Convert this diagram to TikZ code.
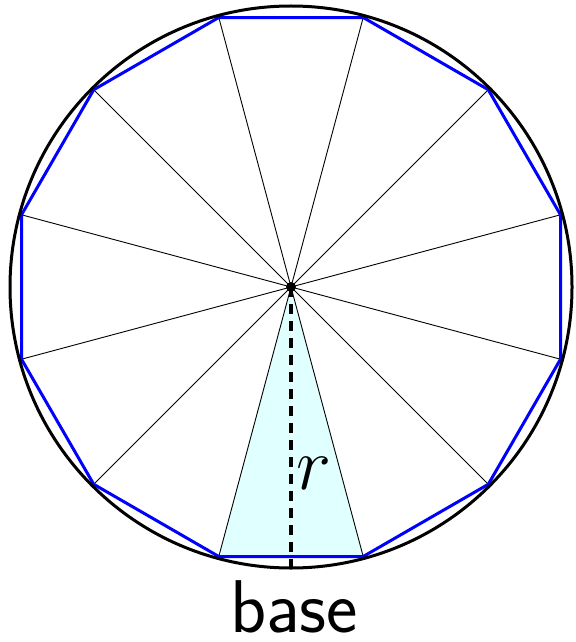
\RequirePackage{fix-cm}
\documentclass[tikz,border=0pt]{standalone}
\usepackage{fontspec}
\usetikzlibrary{calc}
\definecolor{lightcyan}{RGB}{224,255,255}
\begin{document}
\begin{tikzpicture}[x=1bp,y=-1bp,
  spoke/.style={line width=0.9bp,black},
  poly/.style={line width=3bp,blue,line join=round},
  circ/.style={line width=3bp,black},
  midline/.style={line width=3.2bp,dash pattern=on 10bp off 7bp},
  lbl/.style={font=\fontsize{75}{80}\selectfont, inner sep=0pt}]
\useasboundingbox (0,0) rectangle (576,642);
\coordinate (O) at (291,287);
\foreach \i in {0,...,11} {
  \coordinate (v\i) at ($(O)+({15+30*\i}:279 and -279)$);
}
\fill[lightcyan] (O) -- (v8) -- (v9) -- cycle;
\foreach \i in {0,...,11} { \draw[spoke] (O) -- (v\i); }
\draw[poly] (v0) \foreach \i in {1,...,11} { -- (v\i) } -- cycle;
\draw[circ] (O) circle[radius=281];
\coordinate (B) at (291,567);
\draw[midline] (O) -- (B);
\fill (O) circle[radius=5];
\node[lbl] (r) at (314,473) {$r$};
\node[lbl,anchor=base] (base) at (294,632) {\sffamily base};
\end{tikzpicture}
\end{document}
